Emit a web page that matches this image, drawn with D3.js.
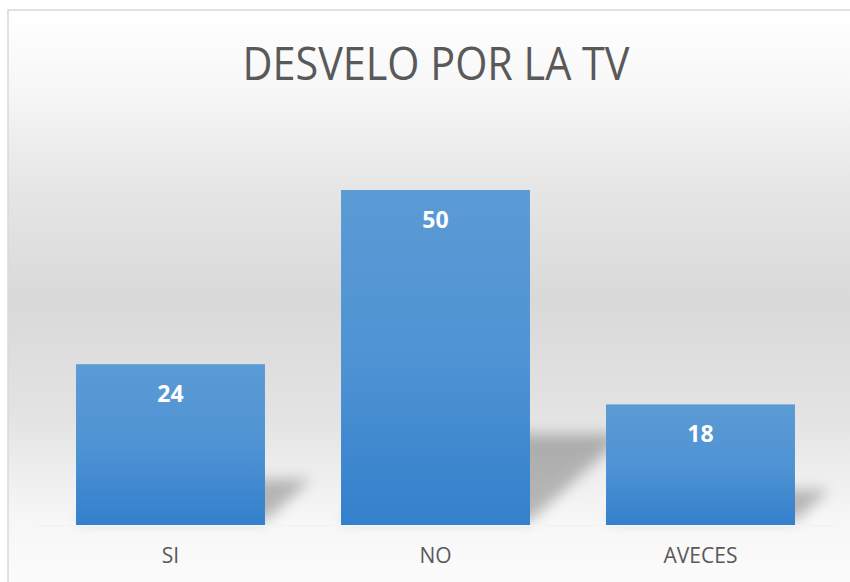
<!DOCTYPE html>
<html>
<head>
<meta charset="utf-8">
<script src="https://cdn.jsdelivr.net/npm/d3@7"></script>
<style>
  html, body { margin: 0; padding: 0; background: #ffffff; }
  svg { display: block; }
</style>
</head>
<body>
<svg id="chart" width="850" height="582"></svg>
<script>
const title = "DESVELO POR LA TV";
const categories = ["SI", "NO", "AVECES"];
const values = [24, 50, 18];
const yDomain = [0, 60];

const W = 850, H = 582;
const svg = d3.select("#chart");
const defs = svg.append("defs");

// background gradient
const bg = defs.append("linearGradient").attr("id", "bgGrad")
  .attr("x1", 0).attr("y1", 0).attr("x2", 0).attr("y2", 1);
[[0, "#ffffff"], [0.12, "#f8f8f8"], [0.3, "#e6e6e6"], [0.5, "#d9d9d9"], [0.7, "#e3e3e3"], [0.88, "#f7f7f7"], [1, "#fcfcfc"]]
  .forEach(([o, c]) => bg.append("stop").attr("offset", o).attr("stop-color", c));

// bar gradient
const bar = defs.append("linearGradient").attr("id", "barGrad")
  .attr("x1", 0).attr("y1", 0).attr("x2", 0).attr("y2", 1);
[[0, "#5b9bd5"], [0.5, "#4f93d3"], [1, "#3380cc"]]
  .forEach(([o, c]) => bar.append("stop").attr("offset", o).attr("stop-color", c));

const blur = defs.append("filter").attr("id", "shadowBlur")
  .attr("x", "-50%").attr("y", "-50%").attr("width", "200%").attr("height", "200%");
blur.append("feGaussianBlur").attr("stdDeviation", 7);

// chart area background + border
svg.append("rect").attr("x", 8).attr("y", 10).attr("width", W).attr("height", H)
  .attr("fill", "url(#bgGrad)").attr("stroke", "#d9d9d9").attr("stroke-width", 1.5);

// title
svg.append("text")
  .attr("x", 436).attr("y", 80)
  .attr("text-anchor", "middle")
  .attr("font-family", "'Open Sans', sans-serif")
  .attr("font-weight", 400)
  .attr("font-size", 46)
  .attr("fill", "#595959")
  .attr("textLength", 387)
  .attr("lengthAdjust", "spacingAndGlyphs")
  .text(title);

const x = d3.scaleBand().domain(categories).range([38, 833]).paddingInner(0.287).paddingOuter(0.1435);
const y = d3.scaleLinear().domain(yDomain).range([525, 123]);

const data = categories.map((c, i) => ({ c, v: values[i] }));

// shadows
svg.append("g").selectAll("path").data(data).join("path")
  .attr("d", d => {
    const x0 = x(d.c), x1 = x(d.c) + x.bandwidth();
    const base = y(0) - 4;
    const h = y(0) - y(d.v);
    const sh = h * 0.26, dx = sh * 1.1;
    return `M${x0},${base}L${x1},${base}L${x1 + dx},${base - sh}L${x0 + dx},${base - sh}Z`;
  })
  .attr("fill", "#000").attr("opacity", 0.25)
  .attr("filter", "url(#shadowBlur)");

// axis line (light)
svg.append("line").attr("x1", 38).attr("x2", 833).attr("y1", y(0) + 1).attr("y2", y(0) + 1)
  .attr("stroke", "#f4f4f4").attr("stroke-width", 2);

// bars
svg.append("g").selectAll("rect").data(data).join("rect")
  .attr("x", d => x(d.c))
  .attr("y", d => y(d.v))
  .attr("width", x.bandwidth())
  .attr("height", d => y(0) - y(d.v))
  .attr("fill", "url(#barGrad)");

// value labels
svg.append("g").selectAll("text").data(data).join("text")
  .attr("x", d => x(d.c) + x.bandwidth() / 2)
  .attr("y", d => y(d.v) + 38)
  .attr("text-anchor", "middle")
  .attr("font-family", "'Open Sans', sans-serif")
  .attr("font-weight", 700)
  .attr("font-size", 23)
  .attr("fill", "#ffffff")
  .text(d => d.v);

// category axis labels
const xAxis = d3.axisBottom(x).tickSize(0).tickPadding(0);
const gx = svg.append("g").attr("transform", `translate(0, ${y(0)})`).call(xAxis);
gx.select(".domain").remove();
gx.selectAll("text")
  .attr("y", 38)
  .attr("dy", 0)
  .attr("font-family", "'Open Sans', sans-serif")
  .attr("font-size", 21)
  .attr("fill", "#595959");
</script>
</body>
</html>
